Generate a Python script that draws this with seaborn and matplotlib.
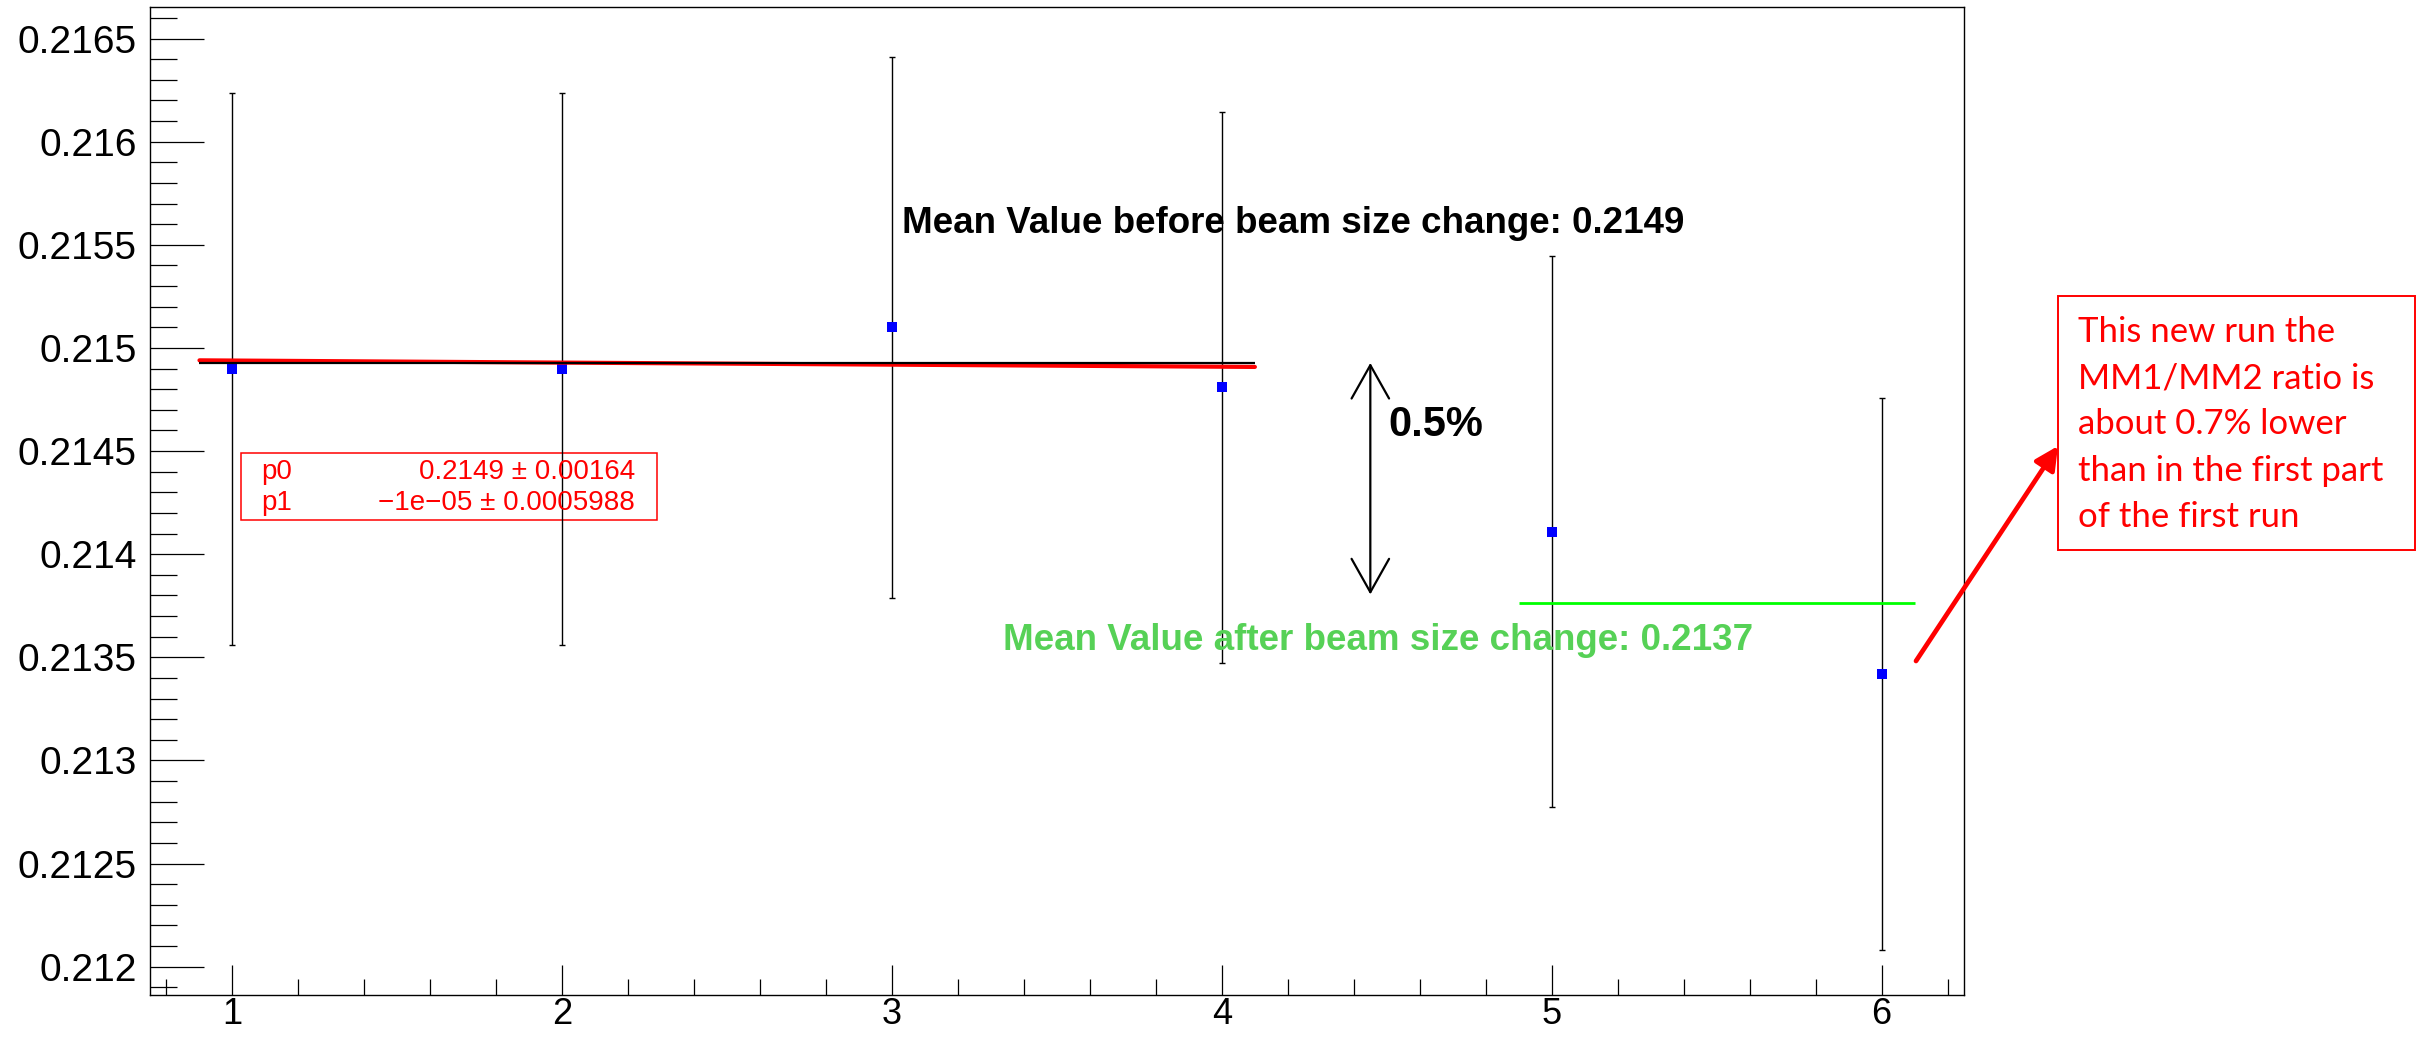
import numpy as np
import pandas as pd
import matplotlib
matplotlib.use("Agg")
import matplotlib.pyplot as plt
import seaborn as sns
from matplotlib.patches import Rectangle, FancyArrowPatch
from matplotlib.ticker import MultipleLocator, FuncFormatter

# MM1/MM2 ratio per run, with uncertainties
runs = [1, 2, 3, 4, 5, 6]
ratio = [0.21490, 0.21490, 0.21510, 0.21481, 0.21411, 0.21342]
ratio_err = [0.001338, 0.001338, 0.00131, 0.001335, 0.001335, 0.001338]

# runs before / after the beam size change
n_before = 4

# pol1 fit over the first part
fit_p0 = 0.214949
fit_p0_err = 0.00164
fit_p1 = -1e-05
fit_p1_err = 0.0005988
fit_range = [0.9, 4.1]

before_span = [0.9, 4.1]
after_span = [4.9, 6.1]

note_lines = ["This new run the", "MM1/MM2 ratio is", "about 0.7% lower",
              "than in the first part", "of the first run"]

df = pd.DataFrame({"run": runs, "ratio": ratio, "err": ratio_err})
mean_before = df["ratio"][:n_before].mean()
mean_after = df["ratio"][n_before:].mean()
drop_pct = (mean_before - mean_after) / mean_before * 100


def four_places(v):
    return f"{np.floor(v * 1e4) / 1e4:.4f}"


sns.set_theme(style="ticks")
plt.rcParams["font.family"] = ["Liberation Sans", "DejaVu Sans"]

W, H = 2419, 1039
fig = plt.figure(figsize=(W / 100, H / 100), dpi=100)
ax = fig.add_axes([150 / W, 1 - 995 / H, 1814 / W, 988 / H])

ax.errorbar(df["run"], df["ratio"], yerr=df["err"], fmt="none", ecolor="black",
            elinewidth=1.0, capsize=2.5, capthick=1.0, zorder=3)
sns.scatterplot(data=df, x="run", y="ratio", marker="s", s=60, color="#0000ff",
                linewidth=0, ax=ax, zorder=4, legend=False)

fx = np.array(fit_range)
sns.lineplot(x=fx, y=fit_p0 + fit_p1 * fx, color="#ff0000", lw=3.0, ax=ax, zorder=5)
ax.hlines(mean_before, *before_span, color="black", lw=1.6, zorder=6)
ax.hlines(mean_after, *after_span, color="#00ff00", lw=2.0, zorder=6)

ax.text(3.03, 0.215555, f"Mean Value before beam size change: {four_places(mean_before)}",
        fontsize=26.5, fontweight="bold", color="black", va="baseline")
ax.text(3.335, 0.213534, f"Mean Value after beam size change: {four_places(mean_after)}",
        fontsize=26.5, fontweight="bold", color="#56d156", va="baseline")

ax.annotate("", xy=(4.45, mean_after + 0.00004), xytext=(4.45, mean_before),
            arrowprops=dict(arrowstyle="<->,head_length=24,head_width=13.5",
                            mutation_scale=1, lw=1.6, color="black",
                            shrinkA=0, shrinkB=0))
ax.text(4.506, 0.214573, f"{drop_pct:.1f}%", fontsize=30, fontweight="bold",
        color="black", va="baseline")

# fit parameter box
ax.add_patch(Rectangle((0.050, 0.4811), 0.2295, 0.0674, transform=ax.transAxes,
                       fill=False, ec="#ff0000", lw=1.1, zorder=2))
p1_txt = f"{fit_p1:.0e}".replace("-", "\u2212")
rows = [("p0", f"{fit_p0:.4g} \u00b1 {fit_p0_err:g}", 0.5293),
        ("p1", f"{p1_txt} \u00b1 {fit_p1_err:g}", 0.498)]
for name, val, yy in rows:
    ax.text(0.0612, yy, name, transform=ax.transAxes, fontsize=20, color="#ff0000",
            va="center", ha="left")
    ax.text(0.2674, yy, val, transform=ax.transAxes, fontsize=20, color="#ff0000",
            va="center", ha="right")

ax.set_xlim(0.75, 6.25)
ax.set_ylim(0.211863, 0.216653)
ax.xaxis.set_major_locator(MultipleLocator(1))
ax.xaxis.set_minor_locator(MultipleLocator(0.2))
ax.yaxis.set_major_locator(MultipleLocator(0.0005))
ax.yaxis.set_minor_locator(MultipleLocator(0.0001))
ax.yaxis.set_major_formatter(FuncFormatter(lambda v, p: f"{v:g}"))
ax.xaxis.set_major_formatter(FuncFormatter(lambda v, p: f"{v:g}"))
ax.set_xlabel("")
ax.set_ylabel("")

ax.tick_params(axis="both", which="both", direction="in", color="black",
               top=False, right=False, labelcolor="black")
ax.tick_params(axis="y", which="major", length=39, width=0.9, pad=9.4, labelsize=28)
ax.tick_params(axis="y", which="minor", length=19.5, width=0.9)
ax.tick_params(axis="x", which="major", length=21.6, width=0.9, pad=1.5, labelsize=26)
ax.tick_params(axis="x", which="minor", length=11.5, width=0.9)
for sp in ax.spines.values():
    sp.set_visible(True)
    sp.set_color("black")
    sp.set_linewidth(1.0)

# side note with arrow
fig.patches.append(Rectangle((2058 / W, 1 - 550 / H), 356.5 / W, 254.4 / H,
                             transform=fig.transFigure, fill=False, ec="#ff0000",
                             lw=1.4))
for i, line in enumerate(note_lines):
    fig.text(2078 / W, 1 - (341.6 + 46.4 * i) / H, line, fontsize=25,
             family=["Lato", "DejaVu Sans"], color="#ff0000", va="baseline")
fig.patches.append(FancyArrowPatch((1916 / W, 1 - 661 / H), (2058 / W, 1 - 446 / H),
                                   transform=fig.transFigure,
                                   arrowstyle="-|>,head_length=14,head_width=7",
                                   mutation_scale=1, lw=3.4, color="#ff0000",
                                   shrinkA=0, shrinkB=0))

fig.savefig("out.png", dpi=100, facecolor="white")
